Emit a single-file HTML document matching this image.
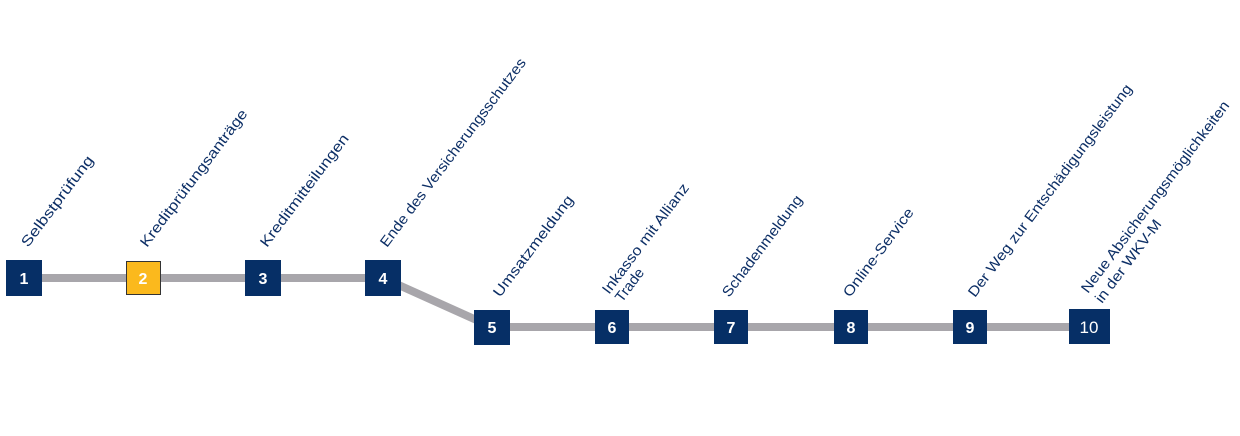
<!DOCTYPE html>
<html><head><meta charset="utf-8"><style>
html,body{margin:0;padding:0;background:#fff;width:1240px;height:436px;overflow:hidden}
</style></head><body>
<svg width="1240" height="436" viewBox="0 0 1240 436" xmlns="http://www.w3.org/2000/svg">
<g stroke="#a8a6ab" stroke-width="8" fill="none">
<polyline points="24,278 383,278 492,327 1090,327"/>
</g>
<g fill="#062f66">
<rect x="6" y="260" width="36" height="36"/>
<rect x="245" y="260" width="36" height="36"/>
<rect x="365" y="260" width="36" height="36"/>
<rect x="474" y="310" width="36" height="35"/>
<rect x="595" y="310" width="34" height="34"/>
<rect x="714" y="310" width="34" height="34"/>
<rect x="834" y="310" width="34" height="34"/>
<rect x="953" y="310" width="34" height="34"/>
<rect x="1069" y="309" width="41" height="35"/>
</g>
<rect x="126.5" y="261.5" width="34" height="33" fill="#fbb91d" stroke="#333" stroke-width="1"/>
<g fill="#fff" font-family="Liberation Sans, sans-serif" font-size="16" font-weight="bold" text-anchor="middle">
<text x="24" y="284">1</text>
<text x="143" y="284">2</text>
<text x="263" y="284">3</text>
<text x="383" y="284">4</text>
<text x="492" y="333">5</text>
<text x="612" y="333">6</text>
<text x="731" y="333">7</text>
<text x="851" y="333">8</text>
<text x="970" y="333">9</text>
<text x="1089" y="333" font-weight="normal" font-size="17">10</text>
</g>
<g fill="#0d2f66" font-family="Liberation Sans, sans-serif" font-size="14.5">
<text transform="translate(28,248) rotate(-53)" textLength="110" lengthAdjust="spacingAndGlyphs">Selbstprüfung</text>
<text transform="translate(147,248) rotate(-53)" textLength="168" lengthAdjust="spacingAndGlyphs">Kreditprüfungsanträge</text>
<text transform="translate(267,248) rotate(-53)" textLength="137" lengthAdjust="spacingAndGlyphs">Kreditmitteilungen</text>
<text transform="translate(387,248) rotate(-53)" textLength="232" lengthAdjust="spacingAndGlyphs">Ende des Versicherungsschutzes</text>
<text transform="translate(500,298) rotate(-53)" textLength="123" lengthAdjust="spacingAndGlyphs">Umsatzmeldung</text>
<text transform="translate(609,295) rotate(-53)" textLength="134" lengthAdjust="spacingAndGlyphs">Inkasso mit Allianz</text>
<text transform="translate(622,303) rotate(-53)" textLength="38" lengthAdjust="spacingAndGlyphs">Trade</text>
<text transform="translate(729,298) rotate(-53)" textLength="123" lengthAdjust="spacingAndGlyphs">Schadenmeldung</text>
<text transform="translate(850,298) rotate(-53)" textLength="107" lengthAdjust="spacingAndGlyphs">Online-Service</text>
<text transform="translate(975,298) rotate(-53)" textLength="262" lengthAdjust="spacingAndGlyphs">Der Weg zur Entschädigungsleistung</text>
<text transform="translate(1088,294) rotate(-53)" textLength="236" lengthAdjust="spacingAndGlyphs">Neue Absicherungsmöglichkeiten</text>
<text transform="translate(1102,304) rotate(-53)" textLength="100" lengthAdjust="spacingAndGlyphs">in der WKV-M</text>
</g>
</svg>
</body></html>
